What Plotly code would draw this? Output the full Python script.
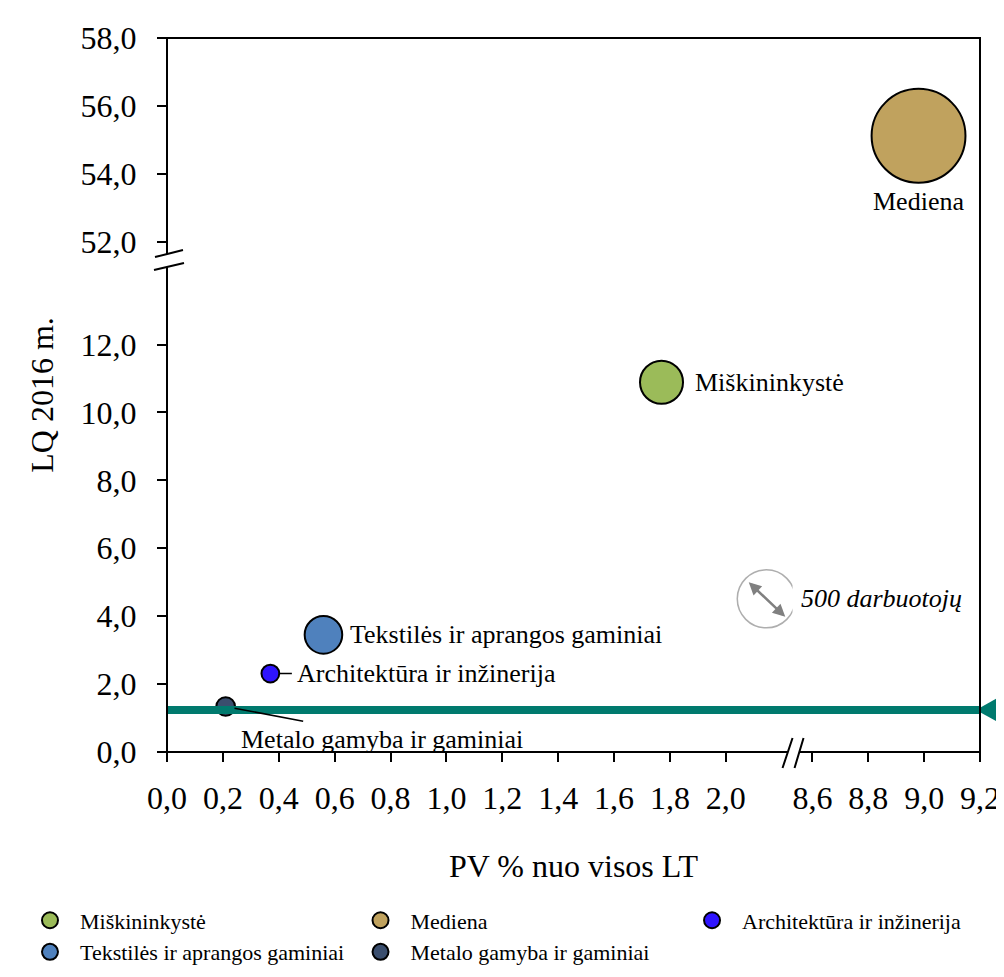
import plotly.graph_objects as go

# ---------------- data ----------------
categories = ["Miškininkystė", "Mediena", "Architektūra ir inžinerija",
              "Tekstilės ir aprangos gaminiai", "Metalo gamyba ir gaminiai"]
pv_share = [1.77, 8.98, 0.37, 0.56, 0.21]          # PV % nuo visos LT
lq_2016 = [10.89, 55.12, 2.31, 3.45, 1.34]         # LQ 2016 m.
employees = [275, 1310, 47, 210, 52]               # bubble size (darbuotojai)
colors = ["#9BBB59", "#C0A25E", "#2F14FF", "#4F81BD", "#3A4E6E"]

lq_threshold = 1.24
ref_employees = 500
ref_label = "500 darbuotojų"
ref_x = 2.145
ref_y = 4.51

x_ticks_low = [0.0, 0.2, 0.4, 0.6, 0.8, 1.0, 1.2, 1.4, 1.6, 1.8, 2.0]
x_ticks_high = [8.6, 8.8, 9.0, 9.2]
y_ticks_low = [0.0, 2.0, 4.0, 6.0, 8.0, 10.0, 12.0]
y_ticks_high = [52.0, 54.0, 56.0, 58.0]
x_low_range = [0.0, 2.239]
x_high_range = [8.529, 9.2]
y_low_range = [0.0, 14.457]
y_high_range = [51.43, 58.0]

x_title = "PV % nuo visos LT"
y_title = "LQ 2016 m."

# ---------------- styling ----------------
FONT = "Liberation Serif"
TEAL = "#007A6E"
W, H = 1004, 977
ML, MR, MT, MB = 156, 24, 23, 218
PW, PH = W - ML - MR, H - MT - MB
x_span_low = x_low_range[1] - x_low_range[0]
x_span_high = x_high_range[1] - x_high_range[0]
y_span_low = y_low_range[1] - y_low_range[0]
y_span_high = y_high_range[1] - y_high_range[0]
x_split = x_span_low / (x_span_low + x_span_high)
y_split = y_span_low / (y_span_low + y_span_high)

# diameter 58 px for 500 employees (plotly area mode: d = 2*sqrt(v/(2*sizeref)))
REF_DIAM = 58
sizeref = 2.0 * ref_employees / REF_DIAM ** 2

legend_of = {0: "legend", 1: "legend2", 2: "legend3"}

fig = go.Figure()

for i, name in enumerate(categories):
    xa = "x2" if pv_share[i] > x_low_range[1] else "x"
    ya = "y2" if lq_2016[i] > y_low_range[1] else "y"
    fig.add_trace(go.Scatter(
        x=[pv_share[i]], y=[lq_2016[i]], name=name, mode="markers",
        xaxis=xa, yaxis=ya, cliponaxis=False,
        marker=dict(size=[employees[i]], sizemode="area", sizeref=sizeref,
                    color=colors[i], line=dict(color="black", width=2), opacity=1),
        legend=legend_of[i % 3],
        hovertemplate=name + "<br>PV: %{x}<br>LQ: %{y}<extra></extra>",
    ))

# reference bubble (500 darbuotojų)
fig.add_trace(go.Scatter(
    x=[ref_x], y=[ref_y], mode="markers", showlegend=False, hoverinfo="skip",
    marker=dict(size=[ref_employees], sizemode="area", sizeref=sizeref,
                color="rgba(255,255,255,0)", line=dict(color="#8C8C8C", width=1.5)),
))

annotations = []
ann_font = dict(family=FONT, size=26, color="black")


def idx(n):
    return categories.index(n)


# Mediena: below bubble
i = idx("Mediena")
annotations.append(dict(x=pv_share[i], y=lq_2016[i], xref="x2", yref="y2", text=categories[i],
                        showarrow=False, xanchor="center", yanchor="middle", yshift=-66, font=ann_font))
# Miškininkystė: right
i = idx("Miškininkystė")
annotations.append(dict(x=pv_share[i], y=lq_2016[i], xref="x", yref="y", text=categories[i],
                        showarrow=False, xanchor="left", yanchor="middle", xshift=31, font=ann_font))
# Tekstilės: right
i = idx("Tekstilės ir aprangos gaminiai")
annotations.append(dict(x=pv_share[i], y=lq_2016[i], xref="x", yref="y", text=categories[i],
                        showarrow=False, xanchor="left", yanchor="middle", xshift=25, font=ann_font))
# Architektūra: right with leader
i = idx("Architektūra ir inžinerija")
annotations.append(dict(x=pv_share[i], y=lq_2016[i], xref="x", yref="y", text="",
                        showarrow=True, arrowhead=0, arrowwidth=1.5, arrowcolor="black",
                        ax=23, ay=0, standoff=9, font=dict(size=2)))
annotations.append(dict(x=pv_share[i], y=lq_2016[i], xref="x", yref="y", text=categories[i],
                        showarrow=False, xanchor="left", yanchor="middle", xshift=25, font=ann_font))
# Metalo: below-right with leader
i = idx("Metalo gamyba ir gaminiai")
annotations.append(dict(x=pv_share[i], y=lq_2016[i], xref="x", yref="y", text="",
                        showarrow=True, arrowhead=0, arrowwidth=1.5, arrowcolor="black",
                        ax=79, ay=15, standoff=9, font=dict(size=2)))
annotations.append(dict(x=pv_share[i], y=lq_2016[i], xref="x", yref="y", text=categories[i],
                        showarrow=False, xanchor="left", yanchor="middle", xshift=13, yshift=-33,
                        font=ann_font))

# reference bubble arrow and label
annotations.append(dict(x=ref_x, y=ref_y, xref="x", yref="y", text="",
                        showarrow=True, arrowside="end+start", arrowhead=2, startarrowhead=2,
                        arrowsize=1, startarrowsize=1, arrowwidth=2.5, arrowcolor="#808080",
                        xshift=19, yshift=-18, ax=-38, ay=-36, standoff=0, startstandoff=0,
                        font=dict(size=2)))
annotations.append(dict(x=ref_x, y=ref_y, xref="x", yref="y", text="<i>" + ref_label + "</i>",
                        showarrow=False, xanchor="left", yanchor="middle", xshift=33, font=ann_font))

# axis titles
annotations.append(dict(x=0.5, y=(-(877 - (MT + PH))) / PH, xref="paper", yref="paper", text=x_title,
                        showarrow=False, xanchor="center", yanchor="middle",
                        font=dict(family=FONT, size=32, color="black")))
annotations.append(dict(x=(29 - ML) / PW, y=0.5, xref="paper", yref="paper", text=y_title,
                        showarrow=False, xanchor="center", yanchor="middle", textangle=-90,
                        font=dict(family=FONT, size=32, color="black")))

# threshold position in paper fraction (lower y-axis)
thr_paper = (lq_threshold - y_low_range[0]) / y_span_low * y_split

shapes = [
    # threshold line
    dict(type="line", xref="paper", yref="y", x0=0, x1=1, y0=lq_threshold, y1=lq_threshold,
         line=dict(color=TEAL, width=8), layer="above"),
    # threshold arrow head at right edge
    dict(type="path", xref="paper", yref="paper", xsizemode="pixel", ysizemode="pixel",
         xanchor=1, yanchor=thr_paper, path="M-4,0 L46,28 L46,-28 Z",
         fillcolor=TEAL, line=dict(width=0), layer="above"),
    # frame
    dict(type="rect", xref="paper", yref="paper", x0=0, x1=1, y0=0, y1=1,
         line=dict(color="black", width=2), layer="above"),
    # y-axis break
    dict(type="path", xref="paper", yref="paper", xsizemode="pixel", ysizemode="pixel",
         xanchor=0, yanchor=y_split, path="M-12,4 L16,11 L16,-2 L-12,-9 Z",
         fillcolor="white", line=dict(width=0), layer="above"),
    dict(type="path", xref="paper", yref="paper", xsizemode="pixel", ysizemode="pixel",
         xanchor=0, yanchor=y_split, path="M-12,4 L16,11 M-13,-9 L17,-2",
         line=dict(color="black", width=2), layer="above"),
    # x-axis break
    dict(type="path", xref="paper", yref="paper", xsizemode="pixel", ysizemode="pixel",
         xanchor=x_split, yanchor=0, path="M-10,-16 L0,14 L11,14 L2,-16 Z",
         fillcolor="white", line=dict(width=0), layer="above"),
    dict(type="path", xref="paper", yref="paper", xsizemode="pixel", ysizemode="pixel",
         xanchor=x_split, yanchor=0, path="M-10,-16 L0,14 M2,-16 L11,14",
         line=dict(color="black", width=2), layer="above"),
]

axis_common = dict(showline=False, showgrid=False, zeroline=False, ticks="outside",
                   ticklen=9, tickwidth=2, tickcolor="black", tickformat=".1f",
                   tickfont=dict(family=FONT, size=32, color="black"), fixedrange=True)

legend_common = dict(orientation="v", xanchor="left", yanchor="top", bgcolor="rgba(0,0,0,0)",
                     font=dict(family=FONT, size=22, color="black"), itemwidth=50,
                     tracegroupgap=0, xref="paper", yref="paper")
leg_y = (-(911 - (MT + PH))) / PH

fig.update_layout(
    width=W, height=H, margin=dict(l=ML, r=MR, t=MT, b=MB),
    paper_bgcolor="white", plot_bgcolor="white",
    font=dict(family=FONT, size=26, color="black"),
    separators=",.",
    xaxis=dict(domain=[0, x_split], range=x_low_range, tickvals=x_ticks_low, anchor="y",
               ticklabelstandoff=9, **axis_common),
    xaxis2=dict(domain=[x_split, 1], range=x_high_range, tickvals=x_ticks_high, anchor="y",
                ticklabelstandoff=9, **axis_common),
    yaxis=dict(domain=[0, y_split], range=y_low_range, tickvals=y_ticks_low, anchor="x",
               ticklabelstandoff=14, **axis_common),
    yaxis2=dict(domain=[y_split, 1], range=y_high_range, tickvals=y_ticks_high, anchor="x",
                ticklabelstandoff=14, **axis_common),
    legend=dict(x=(7 - ML) / PW, y=leg_y, **legend_common),
    legend2=dict(x=(342 - ML) / PW, y=leg_y, **legend_common),
    legend3=dict(x=(678 - ML) / PW, y=leg_y, **legend_common),
    annotations=annotations,
    shapes=shapes,
    showlegend=True,
)

fig.write_html("out.html")
